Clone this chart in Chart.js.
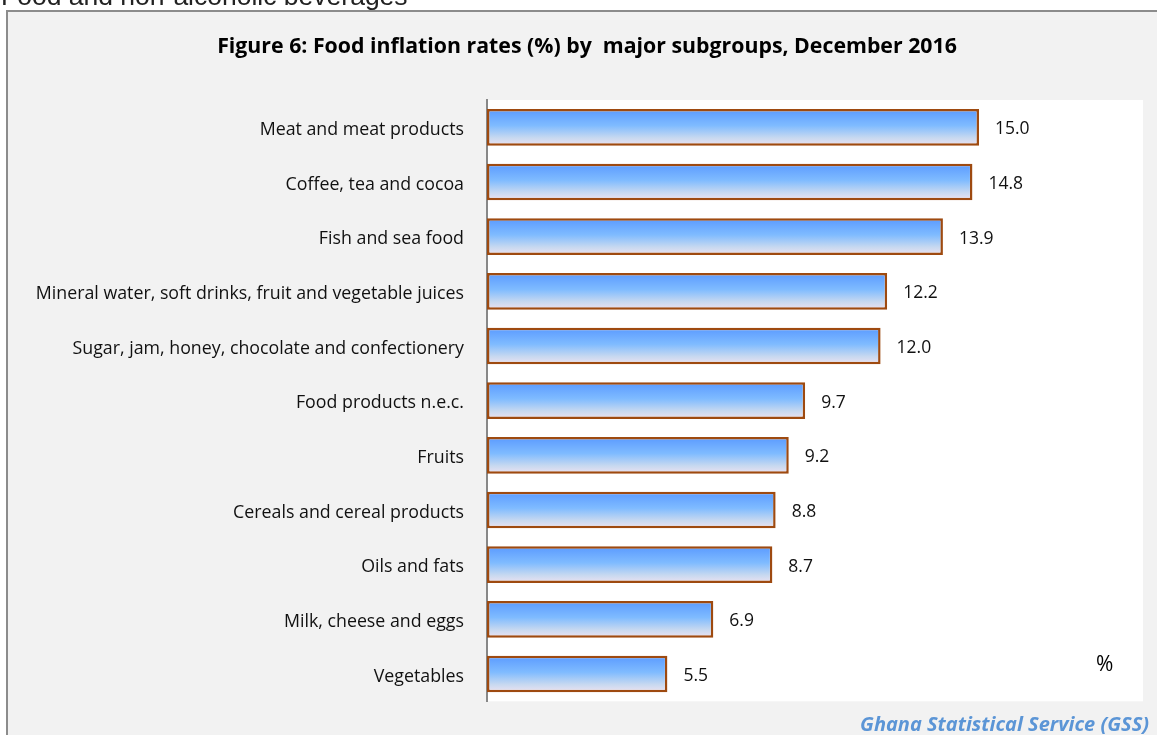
<!DOCTYPE html>
<html>
<head>
<meta charset="utf-8">
<script src="https://cdn.jsdelivr.net/npm/chart.js@4.4.1/dist/chart.umd.min.js"></script>
<style>
  html, body { margin: 0; padding: 0; background: #ffffff; }
  #c { display: block; }
</style>
</head>
<body>
<canvas id="c" width="1157" height="735"></canvas>
<script>
const categories = [
  "Meat and meat products",
  "Coffee, tea and cocoa",
  "Fish and sea food",
  "Mineral water, soft drinks, fruit and vegetable juices",
  "Sugar, jam, honey, chocolate and confectionery",
  "Food products n.e.c.",
  "Fruits",
  "Cereals and cereal products",
  "Oils and fats",
  "Milk, cheese and eggs",
  "Vegetables"
];
const inflationRates = [15.0, 14.8, 13.9, 12.2, 12.0, 9.7, 9.2, 8.8, 8.7, 6.9, 5.5];
const xMin = 0;
const xMax = 20;

const titleText = "Figure 6: Food inflation rates (%) by  major subgroups, December 2016";
const headerText = "Food and non-alcoholic beverages";
const sourceText = "Ghana Statistical Service (GSS)";
const unitText = "%";

const FONT = '"Open Sans", Lato, sans-serif';
const BAR_PCT = 0.67;

function barGradient(c) {
  const chart = c.chart;
  const ys = chart.scales && chart.scales.y;
  if (!ys || !chart.chartArea || c.dataIndex === undefined) return '#80bbff';
  const cy = ys.getPixelForValue(c.dataIndex);
  const step = (chart.chartArea.bottom - chart.chartArea.top) / categories.length;
  const h = step * BAR_PCT;
  const top = cy - h / 2;
  const g = chart.ctx.createLinearGradient(0, top, 0, top + h);
  g.addColorStop(0, '#5a9aff');
  g.addColorStop(0.45, '#7fbbff');
  g.addColorStop(0.78, '#c6d8f0');
  g.addColorStop(1, '#ede3f1');
  return g;
}

const decorPlugin = {
  id: 'decor',
  beforeDraw(chart) {
    const ctx = chart.ctx;
    const a = chart.chartArea;
    ctx.save();
    ctx.fillStyle = '#222';
    ctx.font = '26.5px "Liberation Sans", Arial, sans-serif';
    ctx.textBaseline = 'alphabetic';
    ctx.textAlign = 'left';
    ctx.fillText(headerText, 1, 5);
    ctx.fillStyle = '#f2f2f2';
    ctx.fillRect(7, 11, 1160, 740);
    ctx.strokeStyle = '#8c8c8c';
    ctx.lineWidth = 2;
    ctx.strokeRect(7, 11, 1170, 760);
    ctx.fillStyle = '#ffffff';
    ctx.fillRect(a.left, a.top, a.right - a.left, a.bottom - a.top);
    ctx.fillStyle = '#000';
    ctx.font = 'bold 21.3px ' + FONT;
    ctx.textAlign = 'center';
    ctx.textBaseline = 'middle';
    ctx.fillText(titleText, 587, 47);
    ctx.restore();
  },
  afterDatasetsDraw(chart) {
    const ctx = chart.ctx;
    const meta = chart.getDatasetMeta(0);
    ctx.save();
    ctx.fillStyle = '#111';
    ctx.font = '17.5px ' + FONT;
    ctx.textAlign = 'left';
    ctx.textBaseline = 'middle';
    meta.data.forEach((el, i) => {
      ctx.fillText(inflationRates[i].toFixed(1), el.x + 16, el.y + 2);
    });
    ctx.font = '21px ' + FONT;
    ctx.fillStyle = '#000';
    ctx.fillText(unitText, 1096, 665);
    ctx.font = 'italic bold 20px ' + FONT;
    ctx.fillStyle = '#5b95d6';
    ctx.textAlign = 'right';
    ctx.fillText(sourceText, 1149, 725);
    ctx.restore();
  }
};

new Chart(document.getElementById('c'), {
  type: 'bar',
  data: {
    labels: categories,
    datasets: [{
      data: inflationRates,
      backgroundColor: barGradient,
      borderColor: '#9e4a10',
      borderWidth: 2.5,
      borderSkipped: false,
      barPercentage: BAR_PCT,
      categoryPercentage: 1.0
    }]
  },
  options: {
    indexAxis: 'y',
    responsive: false,
    animation: false,
    devicePixelRatio: 1,
    layout: { padding: { top: 100, right: 14, bottom: 30, left: 0 } },
    plugins: {
      legend: { display: false },
      title: { display: false },
      tooltip: { enabled: false }
    },
    scales: {
      x: { min: xMin, max: xMax, display: false },
      y: {
        grid: { display: false, drawTicks: false },
        border: { display: true, color: '#888888', width: 2 },
        ticks: {
          autoSkip: false,
          padding: 23,
          labelOffset: 2.5,
          color: '#111',
          font: { family: FONT, size: 17.8 }
        },
        afterFit(scale) { scale.width = 487; }
      }
    }
  },
  plugins: [decorPlugin]
});
</script>
</body>
</html>
